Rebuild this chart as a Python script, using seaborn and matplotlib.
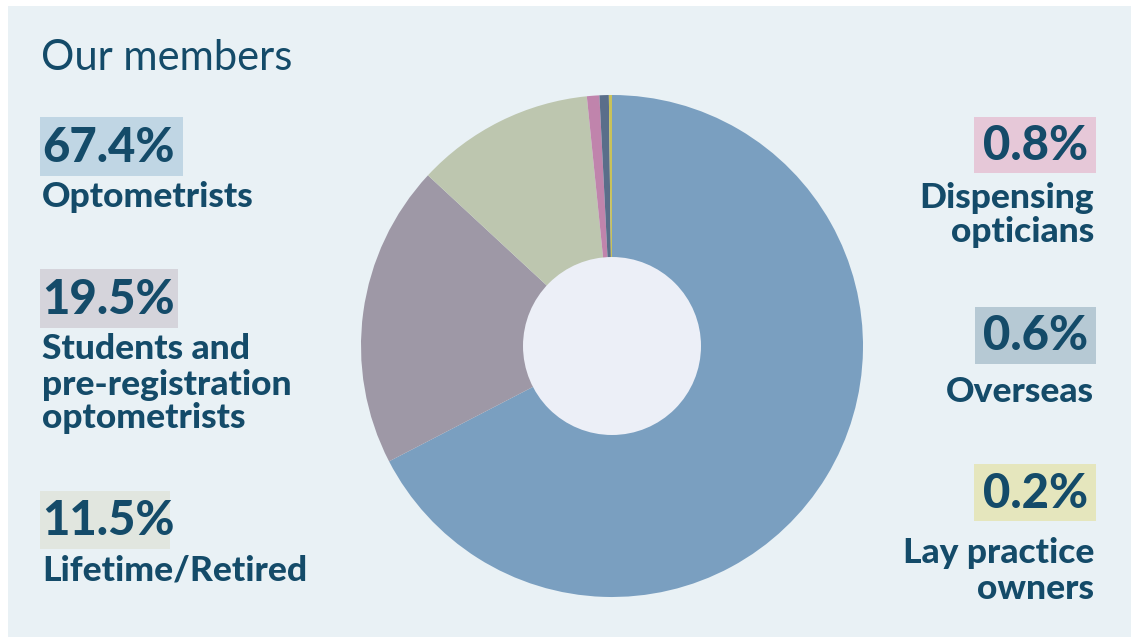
import matplotlib
matplotlib.use("Agg")
import matplotlib.pyplot as plt
from matplotlib.patches import Rectangle, Circle
import seaborn as sns

# ---- data ----
categories = ["Optometrists", "Students and\npre-registration\noptometrists", "Lifetime/Retired",
              "Dispensing\nopticians", "Overseas", "Lay practice\nowners"]
values = [67.4, 19.5, 11.5, 0.8, 0.6, 0.2]
pct_labels = ["67.4%", "19.5%", "11.5%", "0.8%", "0.6%", "0.2%"]
slice_colors = ["#7A9FC0", "#9E98A6", "#BDC6AF", "#C084AC", "#5A6E8A", "#C9C25A"]
box_colors = ["#C0D6E4", "#D5D4DB", "#E1E6DF", "#E6C8D8", "#B6C9D4", "#E5E6BD"]

sns.set_theme(style="white")
plt.rcParams["font.family"] = ["Lato", "DejaVu Sans"]

W, H = 1131, 637
fig = plt.figure(figsize=(W / 100, H / 100), dpi=100, facecolor="white")

TEXT = "#144B69"
PANEL = "#E9F1F5"

def fx(px):
    return px / W

def fy(py):
    return 1 - py / H

# panel
fig.add_artist(Rectangle((fx(8), 0), 1 - fx(8), fy(6), transform=fig.transFigure,
                         facecolor=PANEL, edgecolor="none", zorder=0))

# pie
cx, cy, r = 612, 346, 251
ax = fig.add_axes([fx(cx - r), fy(cy + r), (2 * r) / W, (2 * r) / H])
ax.set_facecolor("none")
ax.pie(values, colors=slice_colors, startangle=90, counterclock=False,
       wedgeprops=dict(linewidth=0), radius=1)
ax.add_patch(Circle((0, 0), 89 / r, facecolor="#ECEFF7", edgecolor="none", zorder=5))
ax.set_xlim(-1, 1)
ax.set_ylim(-1, 1)
ax.set_aspect("equal")
ax.axis("off")

# title
fig.text(fx(41), fy(58), "Our members", fontsize=30, color=TEXT, ha="left", va="center",
         fontweight="normal")

# label layout: (box x0, box x1, box y0, box y1, label line-center y, align)
layout = [
    (40, 183, 117, 176, [197], "left"),
    (40, 178, 269, 328, [349, 385, 418], "left"),
    (40, 170, 491, 549, [571], "left"),
    (974, 1096, 117, 173, [198, 232], "right"),
    (975, 1096, 307, 364, [392], "right"),
    (974, 1096, 464, 521, [553, 589], "right"),
]

for i, (x0, x1, y0, y1, ly, al) in enumerate(layout):
    fig.add_artist(Rectangle((fx(x0), fy(y1)), fx(x1 - x0), (y1 - y0) / H,
                             transform=fig.transFigure, facecolor=box_colors[i],
                             edgecolor="none", zorder=1))
    if al == "left":
        tx = x0 + 2
    else:
        tx = x1 - 8
    fig.text(fx(tx), fy((y0 + y1) / 2 + 1), pct_labels[i], fontsize=34, fontweight="black",
             color=TEXT, ha=al, va="center", zorder=2)
    lines = categories[i].split("\n")
    lx = 42 if al == "left" else 1094
    for line, yy in zip(lines, ly):
        fig.text(fx(lx), fy(yy), line, fontsize=25.5, fontweight="black", color=TEXT,
                 ha=al, va="center", zorder=2)

fig.savefig("out.png", dpi=100, facecolor="white")
